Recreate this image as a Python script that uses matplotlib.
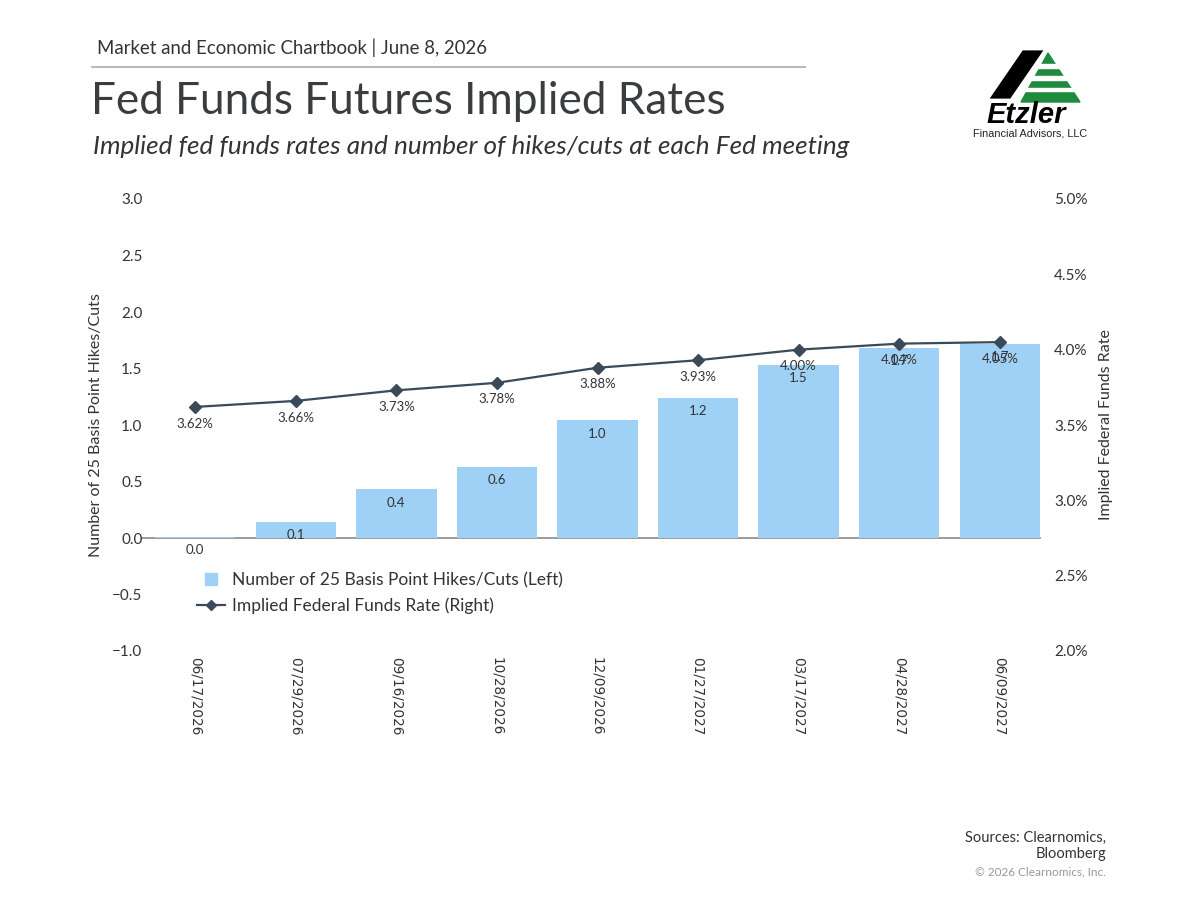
import matplotlib
matplotlib.use("Agg")
import matplotlib.pyplot as plt
from matplotlib.patches import Polygon, Rectangle
from matplotlib.lines import Line2D

dates = ["06/17/2026", "07/29/2026", "09/16/2026", "10/28/2026", "12/09/2026",
         "01/27/2027", "03/17/2027", "04/28/2027", "06/09/2027"]
hikes = [0.01, 0.14, 0.43, 0.63, 1.04, 1.24, 1.53, 1.68, 1.72]
rates = [3.62, 3.66, 3.73, 3.78, 3.88, 3.93, 4.00, 4.04, 4.05]

FONT = "Lato"
TXT = "#333333"
BAR = "#9fd0f5"
LINE = "#3b4a59"

fig = plt.figure(figsize=(12, 9), dpi=100)
W, H = 1200, 900
def fx(x): return x / W
def fy(y): return 1 - y / H

ax = fig.add_axes([fx(155), fy(651), fx(1040) - fx(155), fy(199) - fy(651)])
x = list(range(len(dates)))
ax.bar(x, hikes, width=0.8, color=BAR, zorder=2)
ax.set_xlim(-0.4, len(dates) - 0.6)
ax.set_ylim(-1.0, 3.0)
ax.set_yticks([-1.0, -0.5, 0.0, 0.5, 1.0, 1.5, 2.0, 2.5, 3.0])
ax.set_yticklabels(["\u22121.0", "\u22120.5", "0.0", "0.5", "1.0", "1.5", "2.0", "2.5", "3.0"])
ax.axhline(0, color="#8a8a8a", lw=1.2, zorder=1, xmin=-0.015, clip_on=False)
for s in ax.spines.values():
    s.set_visible(False)
ax.tick_params(axis="both", length=0, labelsize=11, labelcolor=TXT, pad=9)
ax.set_xticks(x)
ax.set_xticklabels(dates, rotation=270, fontsize=9.8, color=TXT, family="DejaVu Sans")
ax.tick_params(axis="x", pad=4)
for lab in ax.get_yticklabels():
    lab.set_family(FONT)
ax.set_ylabel("Number of 25 Basis Point Hikes/Cuts", fontsize=11.5, color=TXT, family=FONT, labelpad=7)

for xi, v in zip(x, hikes):
    ax.annotate(f"{v:.1f}", (xi, v), xytext=(0, -9.5), textcoords="offset points",
                ha="center", va="center", fontsize=9.5, color=TXT, family=FONT, zorder=5)

ax2 = ax.twinx()
ax2.set_ylim(2.0, 5.0)
ax2.set_yticks([2.0, 2.5, 3.0, 3.5, 4.0, 4.5, 5.0])
ax2.set_yticklabels([f"{t:.1f}%" for t in [2.0, 2.5, 3.0, 3.5, 4.0, 4.5, 5.0]])
for s in ax2.spines.values():
    s.set_visible(False)
ax2.tick_params(axis="y", length=0, labelsize=11, labelcolor=TXT, pad=10)
for lab in ax2.get_yticklabels():
    lab.set_family(FONT)
ax2.set_ylabel("Implied Federal Funds Rate", fontsize=11.5, color=TXT, family=FONT, labelpad=8)
ax2.plot(x, rates, color=LINE, lw=1.6, marker="D", markersize=6, zorder=4)
for xi, r in zip(x, rates):
    ax2.annotate(f"{r:.2f}%", (xi, r), xytext=(0, -12), textcoords="offset points",
                 ha="center", va="center", fontsize=9.5, color=TXT, family=FONT, zorder=5)

handles = [Line2D([0], [0], color=BAR, lw=0, marker="s", markersize=8),
           Line2D([0], [0], color=LINE, lw=1.6, marker="D", markersize=5)]
leg = ax.legend(handles, ["Number of 25 Basis Point Hikes/Cuts (Left)", "Implied Federal Funds Rate (Right)"],
                loc="upper left", bbox_to_anchor=(0.04, 0.19), frameon=False, borderaxespad=0,
                prop={"family": FONT, "size": 12.5}, handlelength=1.6, handletextpad=0.4,
                labelspacing=0.55, labelcolor=TXT)

# Header
fig.text(fx(97), fy(48), "Market and Economic Chartbook | June 8, 2026", fontsize=13.4,
         color=TXT, family=FONT, va="center")
fig.add_artist(Line2D([fx(92), fx(805)], [fy(67), fy(67)], color="#aaaaaa", lw=1.2))
fig.text(fx(91), fy(102), "Fed Funds Futures Implied Rates", fontsize=31.8, color="#3a3d40",
         family=FONT, va="center")
fig.text(fx(93), fy(147), "Implied fed funds rates and number of hikes/cuts at each Fed meeting",
         fontsize=18.8, color=TXT, family=FONT, style="italic", va="center")

# Logo
fig.add_artist(Polygon([(fx(1048), fy(53)), (fx(1021), fy(102)), (fx(1080), fy(102))],
                       closed=True, color="#1e8a3c", transform=fig.transFigure))
for y0, y1 in [(64, 67.5), (76, 79.5), (87.5, 90.5)]:
    fig.add_artist(Rectangle((fx(1015), fy(y1)), fx(1090) - fx(1015), fy(y0) - fy(y1),
                             color="white", transform=fig.transFigure))
fig.add_artist(Polygon([(fx(987), fy(100)), (fx(1011), fy(100)), (fx(1046), fy(49)), (fx(1022), fy(49))],
                       closed=True, facecolor="black", edgecolor="white", lw=2, transform=fig.transFigure))
fig.text(fx(1026), fy(115), "Etzler", fontsize=21, fontweight="bold", style="italic",
         family="Liberation Sans", ha="center", va="center", color="black")
fig.text(fx(1030), fy(133), "Financial Advisors, LLC", fontsize=7.8, family="Liberation Sans",
         ha="center", va="center", color="#222222")

# Footer
fig.text(fx(1106), fy(846), "Sources: Clearnomics,\nBloomberg", fontsize=10.5, color=TXT,
         family=FONT, ha="right", va="center", linespacing=1.15)
fig.text(fx(1106), fy(872), "\u00a9 2026 Clearnomics, Inc.", fontsize=8.5, color="#999999",
         family=FONT, ha="right", va="center")

fig.savefig("out.png", dpi=100, facecolor="white")
